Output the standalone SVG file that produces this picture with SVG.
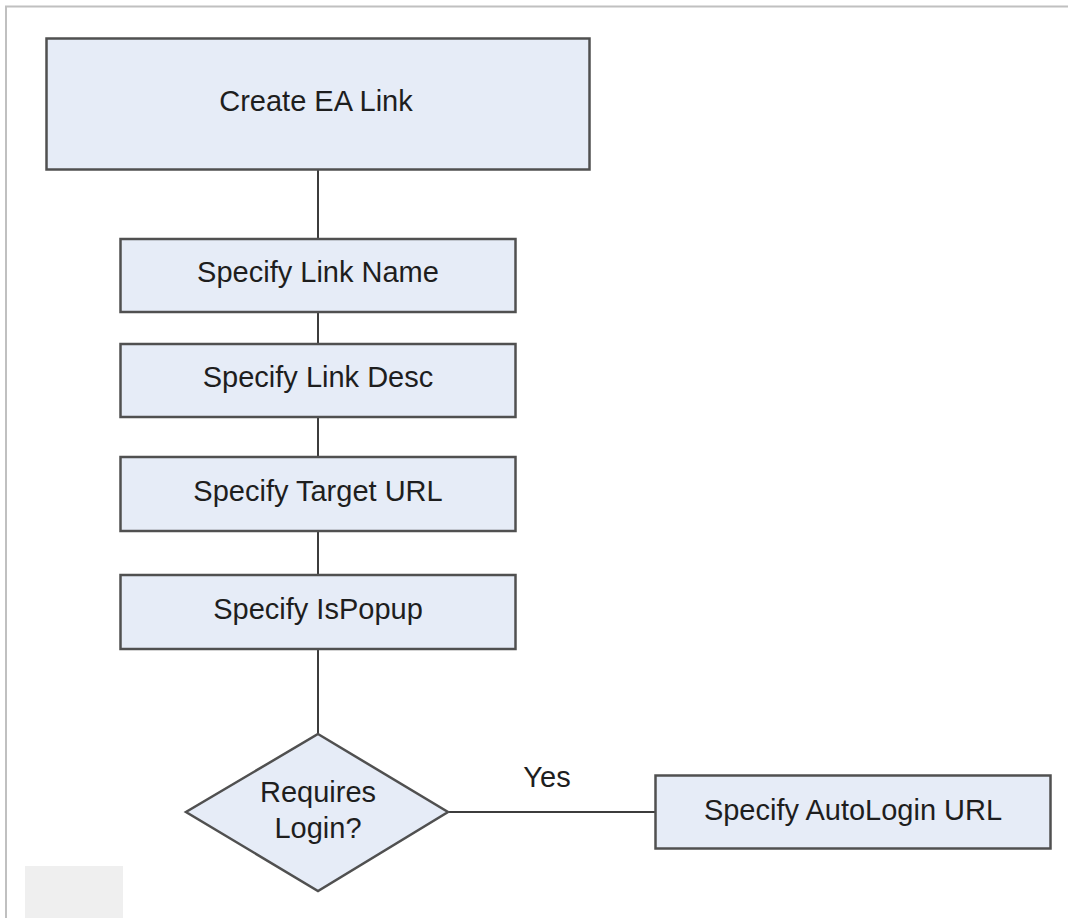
<svg xmlns="http://www.w3.org/2000/svg" width="1068" height="918" viewBox="0 0 1068 918">
<style>
.box{fill:#e6ecf7;stroke:#505050;stroke-width:2.5}
.lbl{font-family:"Liberation Sans",Arial,sans-serif;font-size:29px;fill:#1e1e1e;text-anchor:middle}
.con{stroke:#3c3c3c;stroke-width:2;fill:none}
</style>
<rect width="1068" height="918" fill="#ffffff"/>
<path d="M6,918 V6.5 H1068" fill="none" stroke="#c0c0c0" stroke-width="2"/>
<rect x="25" y="866" width="98" height="52" fill="#efefef"/>
<g id="connectors">
<line class="con" x1="318" y1="170" x2="318" y2="239"/>
<line class="con" x1="318" y1="312" x2="318" y2="344"/>
<line class="con" x1="318" y1="417" x2="318" y2="457"/>
<line class="con" x1="318" y1="531" x2="318" y2="575"/>
<line class="con" x1="318" y1="649" x2="318" y2="734"/>
<line class="con" x1="448" y1="812" x2="655" y2="812"/>
<text class="lbl" x="547" y="787">Yes</text>
</g>
<g id="create">
<rect class="box" x="46.5" y="38.5" width="543" height="131"/>
<text class="lbl" x="316" y="111">Create EA Link</text>
</g>
<g id="name">
<rect class="box" x="120.5" y="239" width="395" height="73"/>
<text class="lbl" x="318" y="282">Specify Link Name</text>
</g>
<g id="desc">
<rect class="box" x="120.5" y="344" width="395" height="73"/>
<text class="lbl" x="318" y="387">Specify Link Desc</text>
</g>
<g id="target">
<rect class="box" x="120.5" y="457" width="395" height="74"/>
<text class="lbl" x="318" y="501">Specify Target URL</text>
</g>
<g id="popup">
<rect class="box" x="120.5" y="575" width="395" height="74"/>
<text class="lbl" x="318" y="619">Specify IsPopup</text>
</g>
<g id="decision">
<polygon class="box" points="318,734 448,812 318,891 186,812"/>
<text class="lbl" x="318" y="802">Requires</text>
<text class="lbl" x="318" y="838">Login?</text>
</g>
<g id="autologin">
<rect class="box" x="655.5" y="775.5" width="395" height="73"/>
<text class="lbl" x="853" y="820">Specify AutoLogin URL</text>
</g>
</svg>
